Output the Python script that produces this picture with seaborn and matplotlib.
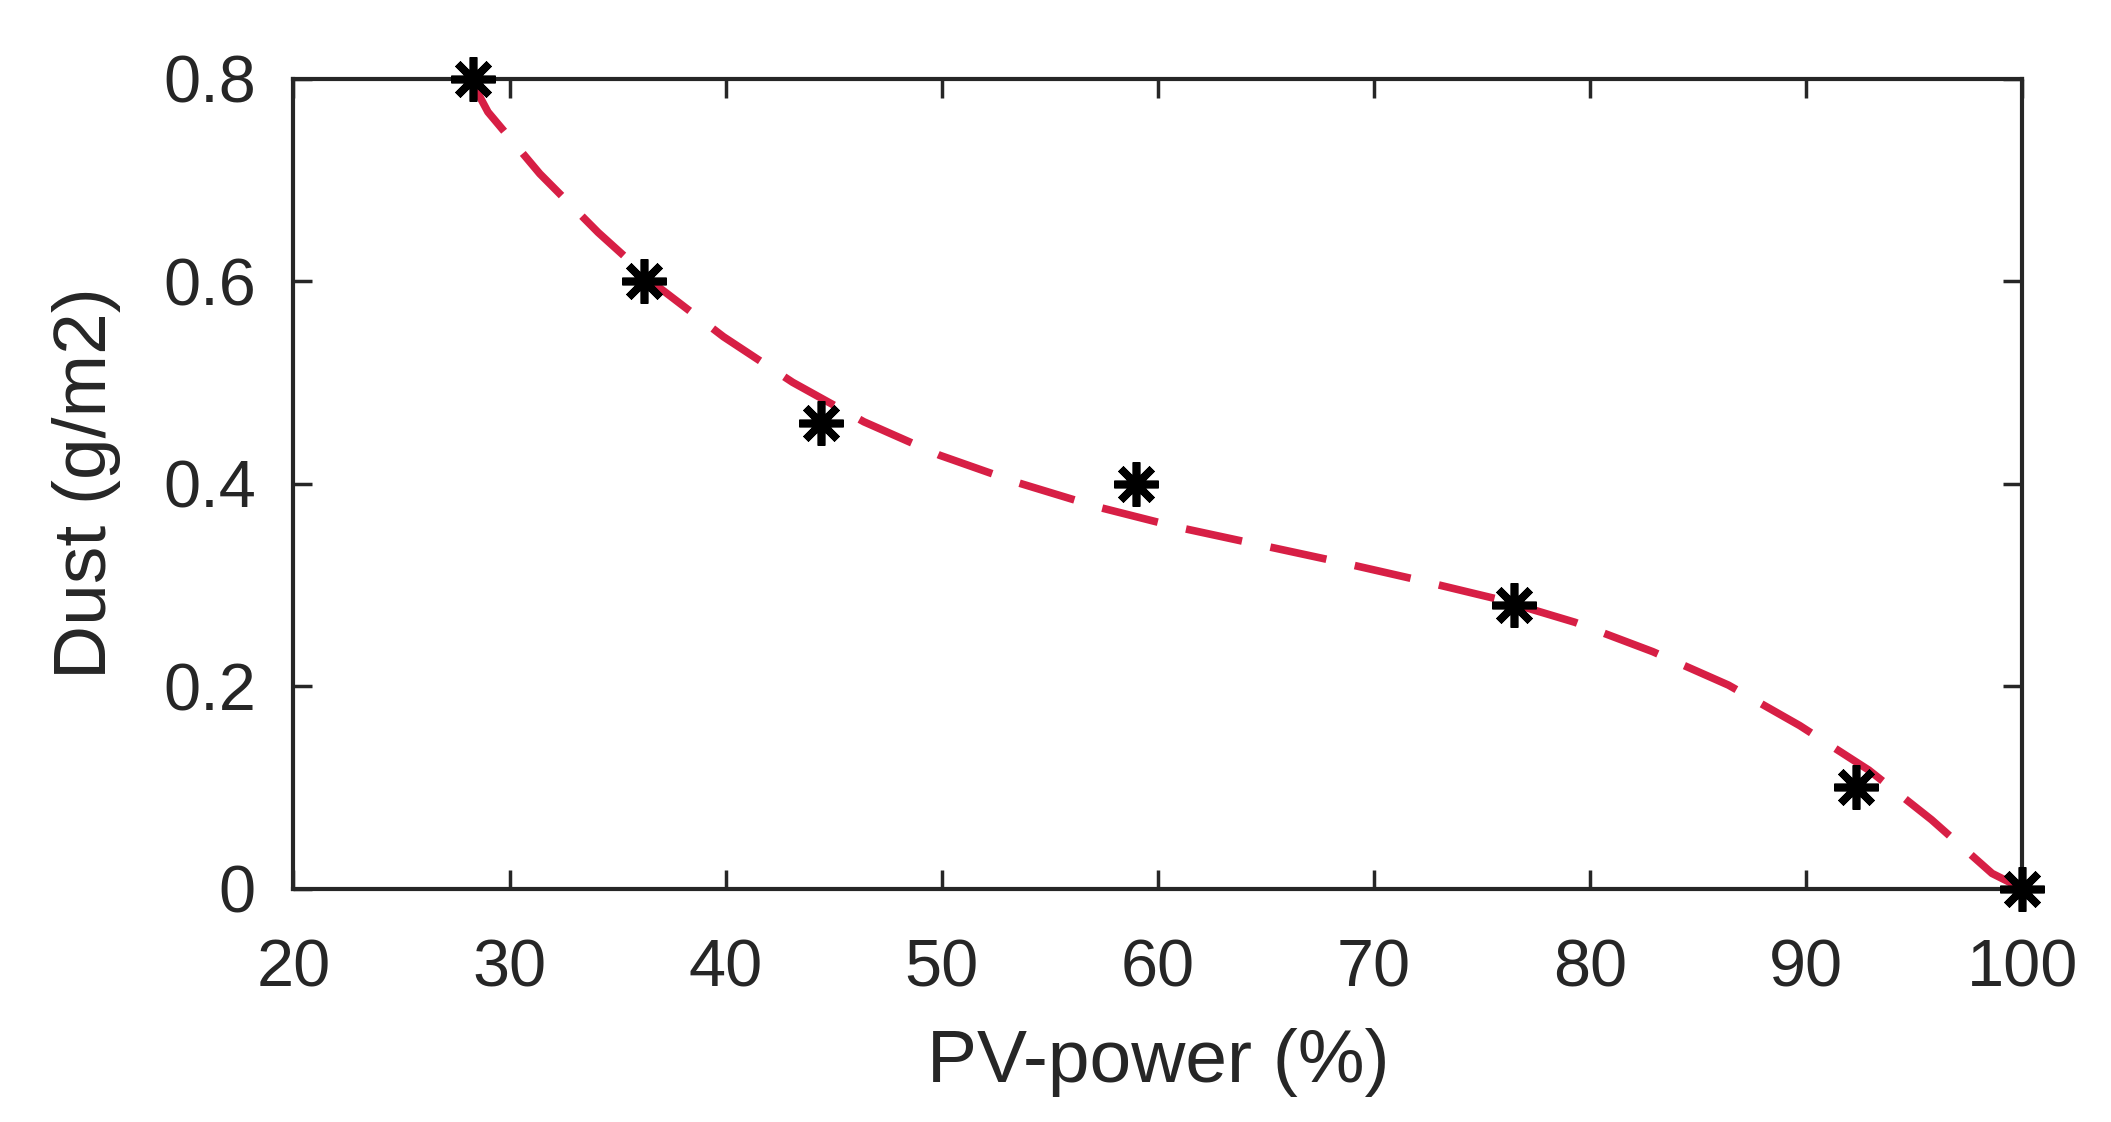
import matplotlib
matplotlib.use("Agg")
import matplotlib.pyplot as plt
import seaborn as sns
import pandas as pd

# measured points
pv_power = [28.3, 36.2, 44.4, 59.0, 76.5, 92.3, 100.0]
dust = [0.80, 0.60, 0.46, 0.40, 0.28, 0.10, 0.00]

# fitted curve
fit_x = [28.3, 29.0, 31.4, 34.1, 36.9, 39.9, 43.1, 46.4, 49.9, 53.5, 57.2, 60.9,
         64.6, 68.3, 72.0, 75.7, 79.3, 82.9, 86.4, 89.7, 92.9, 95.8, 98.6, 100.0]
fit_y = [0.795, 0.767, 0.706, 0.648, 0.594, 0.545, 0.500, 0.461, 0.428, 0.401, 0.377, 0.357,
         0.340, 0.323, 0.305, 0.286, 0.263, 0.234, 0.201, 0.161, 0.117, 0.068, 0.015, 0.0]

x_ticks = [20, 30, 40, 50, 60, 70, 80, 90, 100]
y_ticks = [0, 0.2, 0.4, 0.6, 0.8]

pts = pd.DataFrame({"pv": pv_power, "dust": dust})
fit = pd.DataFrame({"pv": fit_x, "dust": fit_y})

sns.set_style("ticks")
plt.rcParams["font.family"] = ["Liberation Sans", "DejaVu Sans"]

fig = plt.figure(figsize=(21.11, 11.22), dpi=100)
ax = fig.add_axes([0.139, 0.208, 0.819, 0.722])

sns.lineplot(data=fit, x="pv", y="dust", ax=ax, color="#d71f45", sort=False)
curve = ax.lines[0]
curve.set_linewidth(5.5)
curve.set_dashes((7.5, 3.8))
curve.set_dash_capstyle("butt")
sns.lineplot(data=pts, x="pv", y="dust", ax=ax, linewidth=0, marker=(8, 2, 0),
             markersize=32, markeredgewidth=5.5, color="black",
             markeredgecolor="black", zorder=5, clip_on=False)

ax.set_xlim(20, 100)
ax.set_ylim(0, 0.8)
ax.set_xticks(x_ticks)
ax.set_yticks(y_ticks)
ax.set_xticklabels([str(t) for t in x_ticks])
ax.set_yticklabels(["0", "0.2", "0.4", "0.6", "0.8"])

for s in ax.spines.values():
    s.set_visible(True)
    s.set_linewidth(3)
    s.set_color("#262626")
ax.tick_params(direction="in", length=14, width=2.5, color="#262626",
               labelsize=48, labelcolor="#262626", top=True, right=True)
ax.tick_params(axis="x", pad=36)
ax.tick_params(axis="y", pad=27)

ax.set_xlabel("PV-power (%)", fontsize=54, color="#262626", labelpad=20)
ax.set_ylabel("Dust (g/m2)", fontsize=54, color="#262626", labelpad=30)

fig.savefig("out.png", dpi=100)
